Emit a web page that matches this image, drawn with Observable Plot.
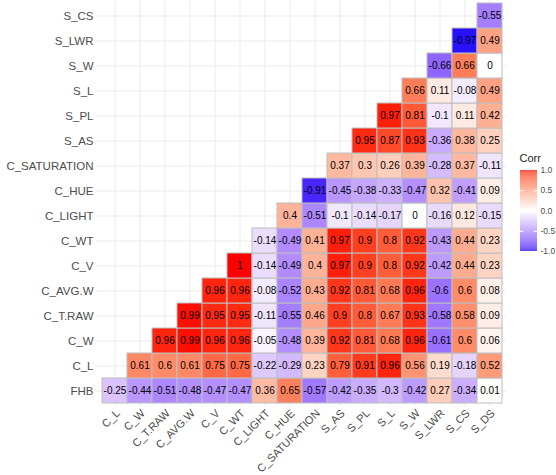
<!DOCTYPE html>
<html>
<head>
<meta charset="utf-8">
<script src="https://cdn.jsdelivr.net/npm/d3@7"></script>
<script src="https://cdn.jsdelivr.net/npm/@observablehq/plot@0.6"></script>
<style>
  html, body { margin: 0; padding: 0; background: #fff; overflow: hidden; }
  #wrap { position: relative; width: 556px; height: 475px; font-family: "Liberation Sans", Arial, sans-serif; }
  #legend { position: absolute; left: 505px; top: 148px; }
</style>
</head>
<body>
<div id="wrap"><div id="main"></div><div id="legend"></div></div>
<script>
const xCats = ["C_L","C_W","C_T.RAW","C_AVG.W","C_V","C_WT","C_LIGHT","C_HUE","C_SATURATION","S_AS","S_PL","S_L","S_W","S_LWR","S_CS","S_DS"];
const yCats = ["FHB","C_L","C_W","C_T.RAW","C_AVG.W","C_V","C_WT","C_LIGHT","C_HUE","C_SATURATION","S_AS","S_PL","S_L","S_W","S_LWR","S_CS"];

// each row's correlations, starting at the column index equal to the row index
const r_FHB   = [-0.25,-0.44,-0.51,-0.48,-0.47,-0.47,0.36,0.65,-0.57,-0.42,-0.35,-0.3,-0.42,0.27,-0.34,0.01];
const r_C_L   = [0.61,0.6,0.61,0.75,0.75,-0.22,-0.29,0.23,0.79,0.91,0.96,0.56,0.19,-0.18,0.52];
const r_C_W   = [0.96,0.99,0.96,0.96,-0.05,-0.48,0.39,0.92,0.81,0.68,0.96,-0.61,0.6,0.06];
const r_C_TRAW= [0.99,0.95,0.95,-0.11,-0.55,0.46,0.9,0.8,0.67,0.93,-0.58,0.58,0.09];
const r_C_AVGW= [0.96,0.96,-0.08,-0.52,0.43,0.92,0.81,0.68,0.96,-0.6,0.6,0.08];
const r_C_V   = [1,-0.14,-0.49,0.4,0.97,0.9,0.8,0.92,-0.42,0.44,0.23];
const r_C_WT  = [-0.14,-0.49,0.41,0.97,0.9,0.8,0.92,-0.43,0.44,0.23];
const r_C_LIGHT=[0.4,-0.51,-0.1,-0.14,-0.17,0,-0.16,0.12,-0.15];
const r_C_HUE = [-0.91,-0.45,-0.38,-0.33,-0.47,0.32,-0.41,0.09];
const r_C_SAT = [0.37,0.3,0.26,0.39,-0.28,0.37,-0.11];
const r_S_AS  = [0.95,0.87,0.93,-0.36,0.38,0.25];
const r_S_PL  = [0.97,0.81,-0.1,0.11,0.42];
const r_S_L   = [0.66,0.11,-0.08,0.49];
const r_S_W   = [-0.66,0.66,0];
const r_S_LWR = [-0.97,0.49];
const r_S_CS  = [-0.55];

const legendTicks = [-1,-0.5,0,0.5,1];

const rowsList = [r_FHB,r_C_L,r_C_W,r_C_TRAW,r_C_AVGW,r_C_V,r_C_WT,r_C_LIGHT,r_C_HUE,r_C_SAT,r_S_AS,r_S_PL,r_S_L,r_S_W,r_S_LWR,r_S_CS];
const cells = [];
rowsList.forEach((row, i) => row.forEach((v, j) => cells.push({x: xCats[i + j], y: yCats[i], value: v})));

const colorScale = {type: "linear", domain: [-1, 0, 1], range: ["blue", "white", "red"], interpolate: "lab"};
const font = "Liberation Sans, Arial, sans-serif";

const main = Plot.plot({
  width: 556,
  height: 475,
  marginLeft: 101,
  marginRight: 54,
  marginTop: 2,
  marginBottom: 72,
  style: {fontFamily: font, background: "white"},
  x: {domain: xCats, padding: 0},
  y: {domain: yCats.slice().reverse(), padding: 0},
  color: colorScale,
  marks: [
    Plot.ruleX(xCats, {x: d => d, stroke: "#ebebeb", strokeWidth: 1, insetTop: -2, insetBottom: -3}),
    Plot.ruleY(yCats, {y: d => d, stroke: "#ebebeb", strokeWidth: 1, insetLeft: -5, insetRight: -4}),
    Plot.cell(cells, {x: "x", y: "y", fill: "value", stroke: "#bebebe", strokeWidth: 1}),
    Plot.text(cells, {x: "x", y: "y", text: d => String(d.value), fill: "black", fontSize: 10}),
    Plot.axisY({tickSize: 0, tickPadding: 8, fontSize: 11.5, color: "#4d4d4d", label: null}),
    Plot.axisX({tickSize: 0, tickPadding: 6, tickRotate: -45, dx: 3, dy: 2, fontSize: 11, color: "#4d4d4d", label: null})
  ]
});
document.getElementById("main").appendChild(main);

const steps = d3.range(-1, 1, 0.01);
const legend = Plot.plot({
  width: 51,
  height: 108,
  marginTop: 22,
  marginBottom: 5,
  marginLeft: 15,
  marginRight: 19,
  style: {fontFamily: font, background: "transparent", overflow: "visible"},
  x: {domain: [0, 1], axis: null},
  y: {domain: [-1, 1]},
  color: colorScale,
  marks: [
    Plot.rect(steps, {x1: 0, x2: 1, y1: d => d, y2: d => d + 0.01, fill: d => d + 0.005}),
    Plot.ruleY([-0.5, 0, 0.5], {x1: 0, x2: 0.2, stroke: "white", strokeWidth: 1}),
    Plot.ruleY([-0.5, 0, 0.5], {x1: 0.8, x2: 1, stroke: "white", strokeWidth: 1}),
    Plot.axisY({anchor: "right", ticks: legendTicks, tickFormat: d => d.toFixed(1), tickSize: 0, tickPadding: 3, fontSize: 8.5, color: "#4d4d4d", label: null}),
    Plot.text(["Corr"], {frameAnchor: "top-left", text: d => d, dy: -16, dx: -1, fontSize: 11, fill: "#222", textAnchor: "start"})
  ]
});
document.getElementById("legend").appendChild(legend);
</script>
</body>
</html>
